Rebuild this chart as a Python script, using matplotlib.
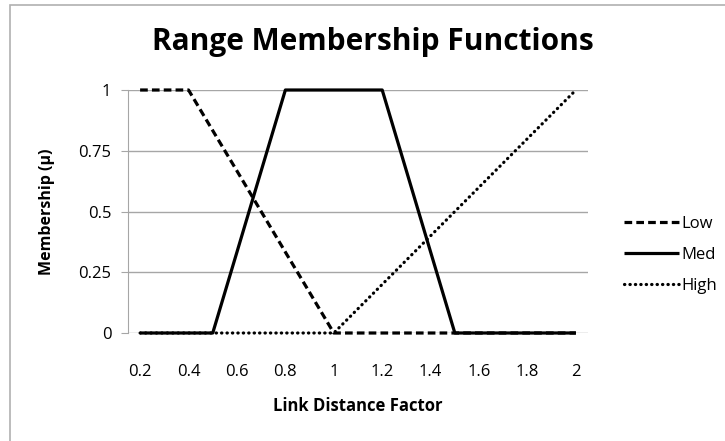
import matplotlib
matplotlib.use("Agg")
import matplotlib.pyplot as plt
from matplotlib.patches import Rectangle

# Link distance factor categories (0.2 .. 2.0, step 0.1)
factors = ["0.2", "0.3", "0.4", "0.5", "0.6", "0.7", "0.8", "0.9", "1", "1.1",
           "1.2", "1.3", "1.4", "1.5", "1.6", "1.7", "1.8", "1.9", "2"]

# Membership values
low = [1, 1, 1, 0.833, 0.667, 0.5, 0.333, 0.167, 0, 0,
       0, 0, 0, 0, 0, 0, 0, 0, 0]
med = [0, 0, 0, 0, 0.333, 0.667, 1, 1, 1, 1,
       1, 0.667, 0.333, 0, 0, 0, 0, 0, 0]
high = [0, 0, 0, 0, 0, 0, 0, 0, 0, 0.1,
        0.2, 0.3, 0.4, 0.5, 0.6, 0.7, 0.8, 0.9, 1]

y_ticks = [0, 0.25, 0.5, 0.75, 1]
y_tick_labels = ["0", "0.25", "0.5", "0.75", "1"]

plt.rcParams["font.family"] = ["Open Sans", "DejaVu Sans"]

W, H = 725, 441
fig = plt.figure(figsize=(W / 100, H / 100), dpi=100)

# Plot area in pixel coordinates (left, right, top, bottom)
left, right, top, bottom = 128, 588, 90, 333
ax = fig.add_axes([left / W, 1 - bottom / H, (right - left) / W, (bottom - top) / H])

x = list(range(len(factors)))
ax.plot(x, low, color="black", lw=2.3, linestyle=(0, (2.4, 1.3)), label="Low",
        dash_capstyle="butt", clip_on=False, zorder=3)
ax.plot(x, med, color="black", lw=2.3, label="Med", solid_capstyle="butt",
        clip_on=False, zorder=3)
ax.plot(x, high, color="black", lw=2.3, linestyle=(0, (0.1, 1.6)), label="High",
        dash_capstyle="round", clip_on=False, zorder=3)

ax.set_xlim(-0.5, len(factors) - 0.5)
ax.set_ylim(0, 1)
ax.set_xticks(x[::2])
ax.set_xticklabels(factors[::2])
ax.set_yticks(y_ticks)
ax.set_yticklabels(y_tick_labels)

# Excel-like styling
grid_color = "#a6a6a6"
ax.yaxis.grid(True, color=grid_color, lw=1)
ax.set_axisbelow(True)
for side in ["top", "right", "bottom"]:
    ax.spines[side].set_visible(False)
ax.spines["left"].set_color(grid_color)
ax.tick_params(axis="y", length=5, color=grid_color, labelsize=12, pad=7)
ax.tick_params(axis="x", length=0, labelsize=12, pad=22)

fig.text(358 / W, 1 - 406 / H, "Link Distance Factor", fontsize=12,
         fontweight="bold", ha="center", va="center")
fig.text(47 / W, 1 - 212 / H, "Membership (\u03bc)", fontsize=11.5,
         fontweight="bold", ha="center", va="center", rotation=90)
fig.text(373 / W, 1 - 42 / H, "Range Membership Functions", fontsize=21.5,
         fontweight="bold", ha="center", va="center")

ax.legend(loc="center left", bbox_to_anchor=(617 / W, 1 - 255 / H),
          bbox_transform=fig.transFigure, frameon=False, fontsize=12,
          handlelength=3.3, handletextpad=0.15, labelspacing=0.9, borderaxespad=0)

# Outer chart border (runs off the right and bottom edges)
fig.patches.append(Rectangle((10 / W, -0.1), 1.0, 1.1 - 5 / H, transform=fig.transFigure,
                             fill=False, edgecolor="#b0b0b0", lw=1.2))

fig.savefig("out.png", dpi=100)
